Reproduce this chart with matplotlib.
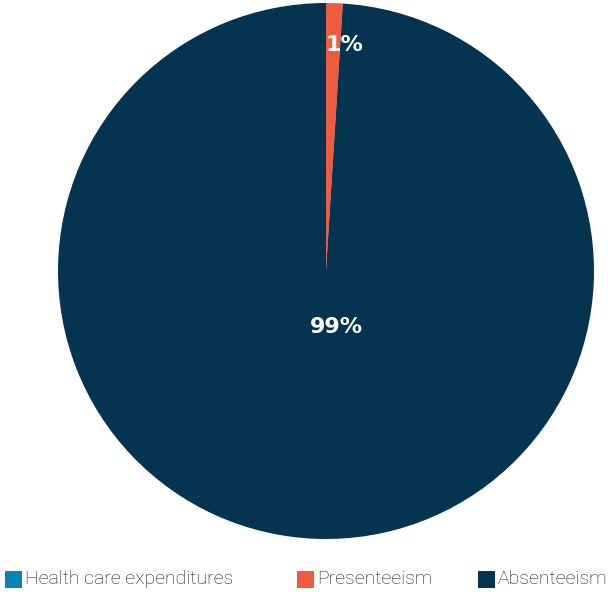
import matplotlib.pyplot as plt
from matplotlib.patches import Rectangle

categories = ['Health care expenditures', 'Presenteeism', 'Absenteeism']
shares = [0, 1, 99]
colors = ['#0b82b0', '#ef5b3f', '#053451']

W, H = 614, 592
fig = plt.figure(figsize=(W / 100, H / 100), dpi=100)
ax = fig.add_axes([58 / W, 53 / H, 536 / W, 536 / H])

# only the non-zero slices are drawn
vals = [v for v in shares if v > 0]
cols = [c for v, c in zip(shares, colors) if v > 0]
wedges, texts, autotexts = ax.pie(vals, colors=cols, startangle=90, counterclock=False,
                                  autopct='%d%%', pctdistance=0.5,
                                  wedgeprops=dict(linewidth=0))
ax.set_aspect('equal')
ax.set_xlim(-1, 1)
ax.set_ylim(-1, 1)

autotexts[0].set_position((0.068, 0.845))
autotexts[1].set_position((0.04, -0.21))
for t in autotexts:
    t.set_color('white')
    t.set_fontsize(16)
    t.set_fontweight('bold')

# legend row along the bottom, laid out by hand
key_left = [5, 297, 478]
for x0, name, c in zip(key_left, categories, colors):
    fig.patches.append(Rectangle((x0 / W, 4 / H), 17 / W, 17 / H, facecolor=c,
                                 edgecolor='none', transform=fig.transFigure))
    fig.text((x0 + 20) / W, 12.5 / H, name, family='Roboto', weight='light',
             fontsize=14, color='#1a1a1a', va='center', ha='left')

fig.savefig('out.png', dpi=100)
